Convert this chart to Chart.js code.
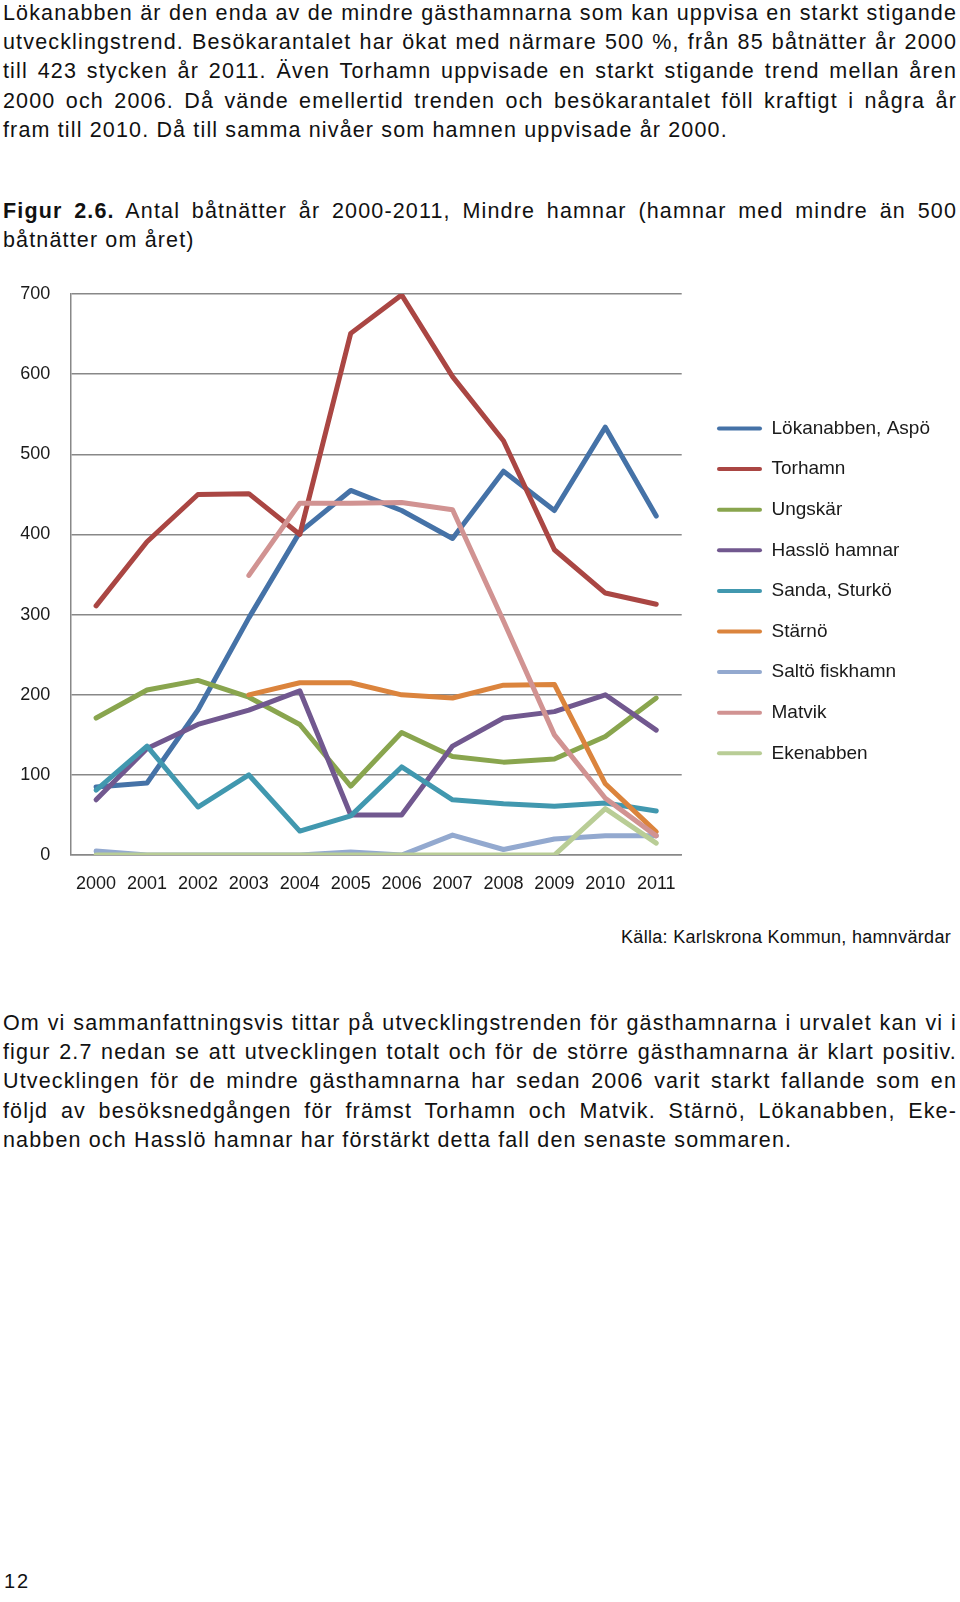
<!DOCTYPE html>
<html lang="sv">
<head>
<meta charset="utf-8">
<title>Figur 2.6 Mindre hamnar</title>
<script src="https://cdn.jsdelivr.net/npm/chart.js"></script>
<style>
  html, body { margin: 0; padding: 0; background: #fff; }
  body { position: relative; width: 960px; height: 1602px; overflow: hidden;
         font-family: 'Liberation Sans', Arial, Helvetica, sans-serif; color: #111; }
  .para { position: absolute; left: 3px; width: 954px; font-size: 21.5px; line-height: 29.3px; letter-spacing: 1.15px; }
  .para div { white-space: nowrap; text-align: justify; text-align-last: justify; }
  .para div.last { text-align-last: left; }
  #source { position: absolute; right: 9px; top: 926.5px; font-size: 18px; line-height: 20px; letter-spacing: 0.3px; }
  #pageno { position: absolute; left: 4px; top: 1571px; font-size: 20px; line-height: 20px; letter-spacing: 2px; }
  #chart-wrap { position: absolute; left: 0; top: 263.2px; width: 960px; height: 650px; }
</style>
</head>
<body>

<div class="para" style="top:-1.4px">
  <div>Lökanabben är den enda av de mindre gästhamnarna som kan uppvisa en starkt stigande</div>
  <div>utvecklingstrend. Besökarantalet har ökat med närmare 500 %, från 85 båtnätter år 2000</div>
  <div>till 423 stycken år 2011. Även Torhamn uppvisade en starkt stigande trend mellan åren</div>
  <div>2000 och 2006. Då vände emellertid trenden och besökarantalet föll kraftigt i några år</div>
  <div class="last">fram till 2010. Då till samma nivåer som hamnen uppvisade år 2000.</div>
</div>

<div class="para" style="top:196.9px">
  <div><b>Figur 2.6.</b> Antal båtnätter år 2000-2011, Mindre hamnar (hamnar med mindre än 500</div>
  <div class="last">båtnätter om året)</div>
</div>

<div id="chart-wrap"><canvas id="lineChart"></canvas></div>

<div id="source">Källa: Karlskrona Kommun, hamnvärdar</div>

<div class="para" style="top:1008.9px">
  <div>Om vi sammanfattningsvis tittar på utvecklingstrenden för gästhamnarna i urvalet kan vi i</div>
  <div>figur 2.7 nedan se att utvecklingen totalt och för de större gästhamnarna är klart positiv.</div>
  <div>Utvecklingen för de mindre gästhamnarna har sedan 2006 varit starkt fallande som en</div>
  <div>följd av besöksnedgången för främst Torhamn och Matvik. Stärnö, Lökanabben, Eke-</div>
  <div class="last">nabben och Hasslö hamnar har förstärkt detta fall den senaste sommaren.</div>
</div>

<div id="pageno">12</div>

<script>
const years = ['2000', '2001', '2002', '2003', '2004', '2005', '2006', '2007', '2008', '2009', '2010', '2011'];
const yTicks = [0, 100, 200, 300, 400, 500, 600, 700];

const harbours = ['Lökanabben, Aspö', 'Torhamn', 'Ungskär', 'Hasslö hamnar', 'Sanda, Sturkö',
                  'Stärnö', 'Saltö fiskhamn', 'Matvik', 'Ekenabben'];
const colors = ['#4572A7', '#AA4643', '#89A54E', '#71588F', '#4198AF',
                '#DB843D', '#93A9CF', '#D19392', '#B9CD96'];

const lokanabben = [85, 90, 181, 296, 403, 455, 430, 395, 479, 430, 534, 423];
const torhamn    = [311, 391, 450, 451, 400, 651, 699, 597, 517, 381, 327, 313];
const ungskar    = [171, 206, 218, 197, 163, 86, 153, 123, 116, 120, 148, 196];
const hasslo     = [69, 133, 163, 181, 205, 50, 50, 136, 171, 179, 200, 156];
const sanda      = [81, 136, 60, 100, 30, 49, 110, 69, 64, 61, 65, 55];
const starno     = [null, null, null, 200, 215, 215, 200, 196, 212, 213, 89, 29];
const salto      = [5, 0, 0, 0, 0, 4, 0, 25, 7, 20, 24, 24];
const matvik     = [null, null, null, 349, 439, 439, 440, 431, 292, 150, 71, 24];
const ekenabben  = [0, 0, 0, 0, 0, 0, 0, 0, 0, 0, 58, 15];

const series = [lokanabben, torhamn, ungskar, hasslo, sanda, starno, salto, matvik, ekenabben];

// legend sits a bit right of the plot and lower than chart.js would put it
const legendGap = 13.7;
const legendDrop = 103.3;

const legendNudge = {
    id: 'legendNudge',
    afterLayout(chart) {
        const lg = chart.legend;
        if (!lg) return;
        lg.left = chart.chartArea.right + legendGap;
        lg.top = chart.chartArea.top + legendDrop;
        lg.right = chart.width;
        lg.bottom = chart.height;
        lg.width = lg.right - lg.left;
        lg.height = lg.bottom - lg.top;
    }
};

Chart.defaults.font.family = "'Liberation Sans', Arial, sans-serif";
Chart.defaults.color = '#1a1a1a';

const ctx = document.getElementById('lineChart').getContext('2d');
new Chart(ctx, {
    type: 'line',
    data: {
        labels: years,
        datasets: series.map((values, i) => ({
            label: harbours[i],
            data: values,
            borderColor: colors[i],
            backgroundColor: colors[i],
            borderWidth: 5,
            borderCapStyle: 'round',
            borderJoinStyle: 'round',
            pointRadius: 0,
            pointHoverRadius: 0,
            tension: 0,
            fill: false,
            order: series.length - 1 - i   // later series drawn on top, like excel
        }))
    },
    options: {
        responsive: true,
        maintainAspectRatio: false,
        animation: false,
        layout: { padding: { left: 0, top: 0, right: 48.3, bottom: 0.3 } },
        plugins: {
            tooltip: { enabled: false },
            legend: {
                position: 'right',
                align: 'start',
                maxWidth: 230,
                labels: {
                    boxWidth: 45,
                    boxHeight: 4,
                    padding: 21.6,
                    useBorderRadius: true,
                    borderRadius: 2,
                    font: { size: 19 },
                    color: '#1a1a1a',
                    sort: (a, b) => a.datasetIndex - b.datasetIndex,
                    generateLabels: function(chart) {
                        return Chart.defaults.plugins.legend.labels.generateLabels(chart)
                            .map(item => ({ ...item, lineWidth: 0 }));
                    }
                }
            }
        },
        scales: {
            x: {
                offset: true,
                grid: { display: false, drawTicks: false },
                border: { display: true, color: '#888888', width: 1.5 },
                ticks: { padding: 18, font: { size: 18 }, maxRotation: 0, autoSkip: false }
            },
            y: {
                min: yTicks[0],
                max: yTicks[yTicks.length - 1],
                afterBuildTicks: axis => { axis.ticks = yTicks.map(v => ({ value: v })); },
                grid: { color: '#888888', lineWidth: 1.5, drawTicks: false },
                border: { display: true, color: '#888888', width: 1.5 },
                ticks: { padding: 20.3, font: { size: 18 } }
            }
        }
    },
    plugins: [legendNudge]
});
</script>
</body>
</html>
